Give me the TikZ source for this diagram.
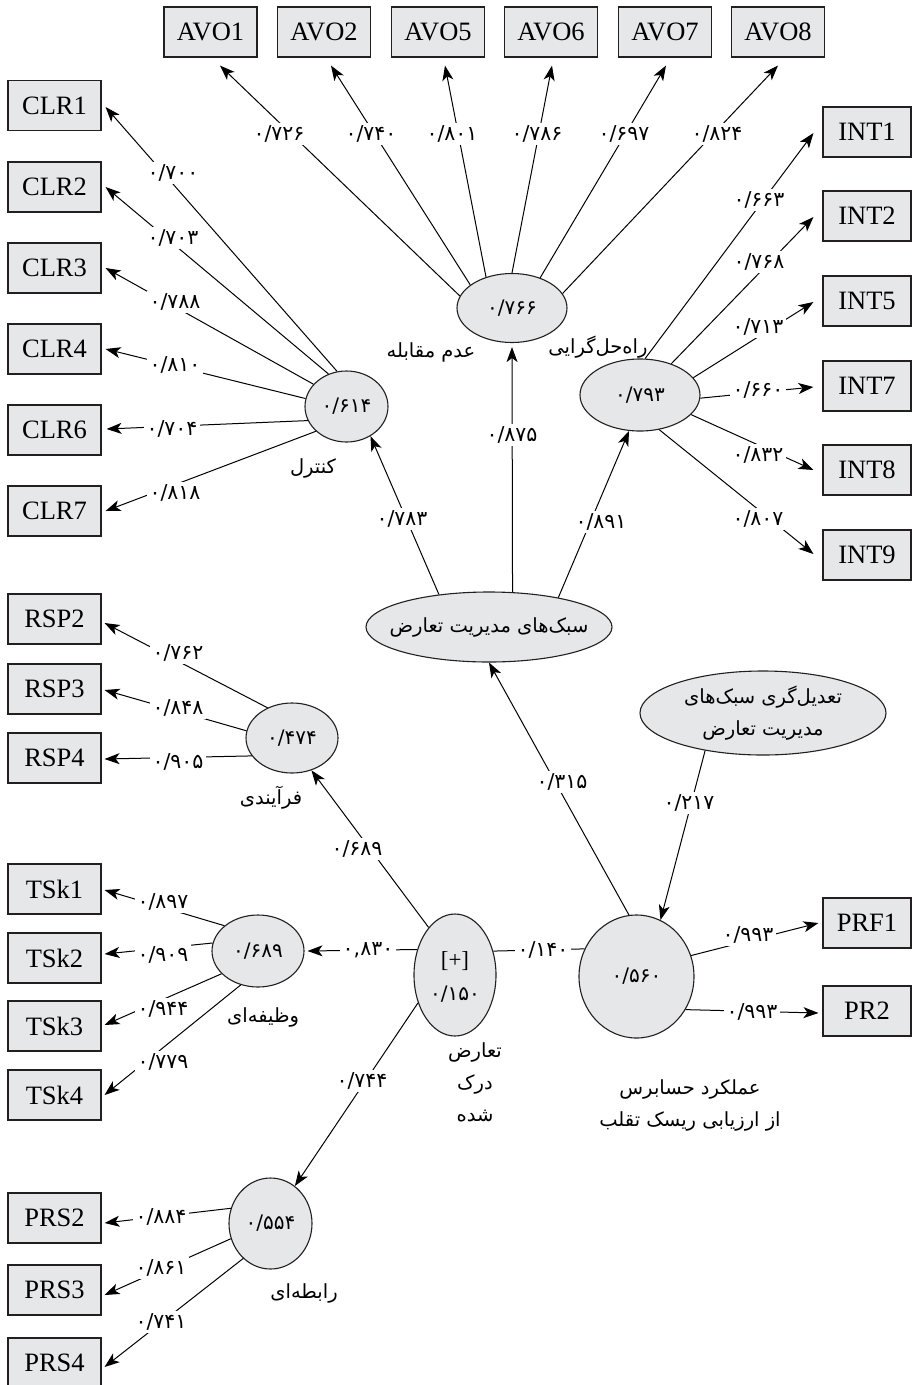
\documentclass[tikz,border=0pt]{standalone}
\usepackage{fontspec}
\setmainfont{Liberation Serif}
\newfontfamily\fa[Script=Arabic]{DejaVu Sans}
\TeXXeTstate=1
\usetikzlibrary{shapes.geometric,arrows.meta}
\definecolor{boxgray}{RGB}{230,231,232}
\definecolor{edge}{RGB}{35,31,32}
\begin{document}
\begin{tikzpicture}[x=1pt,y=-1pt,
  box/.style={draw=edge, fill=boxgray, line width=1.1pt, minimum width=93pt, minimum height=50pt, inner sep=0pt, font=\fontsize{26.5}{28}\selectfont},
  rbox/.style={box, minimum width=88pt},
  ell/.style={ellipse, draw=edge, fill=boxgray, line width=1.1pt, inner sep=0pt},
  val/.style={font=\fa\fontsize{20}{22}\selectfont, inner sep=0pt},
  lbl/.style={fill=white, inner sep=2.5pt, font=\fa\fontsize{20.5}{22}\selectfont},
  fat/.style={font=\fa\fontsize{19.5}{32}\selectfont, align=center, inner sep=0pt},
  con/.style={line width=1pt, draw=black},
  arr/.style={con, -{Stealth[length=15pt,width=11pt,inset=4pt]}}
]
\useasboundingbox (0,0) rectangle (912,1385);

% ---------- boxes ----------
\node[box] (avo1) at (210.5,32) {AVO1};
\node[box] (avo2) at (324,32) {AVO2};
\node[box] (avo5) at (438,32) {AVO5};
\node[box] (avo6) at (551,32) {AVO6};
\node[box] (avo7) at (665,32) {AVO7};
\node[box] (avo8) at (778,32) {AVO8};

\node[box] (clr1) at (54.5,105.5) {CLR1};
\node[box] (clr2) at (54.5,187) {CLR2};
\node[box] (clr3) at (54.5,268) {CLR3};
\node[box] (clr4) at (54.5,349) {CLR4};
\node[box] (clr6) at (54.5,430) {CLR6};
\node[box] (clr7) at (54.5,511) {CLR7};

\node[rbox] (int1) at (867,132) {INT1};
\node[rbox] (int2) at (867,216) {INT2};
\node[rbox] (int5) at (867,301) {INT5};
\node[rbox] (int7) at (867,386) {INT7};
\node[rbox] (int8) at (867,470) {INT8};
\node[rbox] (int9) at (867,555) {INT9};

\node[box] (rsp2) at (54.5,619) {RSP2};
\node[box] (rsp3) at (54.5,689) {RSP3};
\node[box] (rsp4) at (54.5,758) {RSP4};

\node[box] (tsk1) at (54.5,889) {TSk1};
\node[box] (tsk2) at (54.5,958) {TSk2};
\node[box] (tsk3) at (54.5,1026) {TSk3};
\node[box] (tsk4) at (54.5,1095) {TSk4};

\node[rbox] (prf1) at (867,923) {PRF1};
\node[rbox] (pr2) at (867,1011) {PR2};

\node[box] (prs2) at (54.5,1218) {PRS2};
\node[box] (prs3) at (54.5,1290) {PRS3};
\node[box] (prs4) at (54.5,1363) {PRS4};

% ---------- ellipses ----------
\node[ell, minimum width=110pt, minimum height=69pt] (avo) at (512,308) {};
\node[ell, minimum width=83pt, minimum height=71pt] (clr) at (346.5,406.5) {};
\node[ell, minimum width=120pt, minimum height=72pt] (int) at (640,395) {};
\node[ell, minimum width=246pt, minimum height=70pt] (sbk) at (489,627) {};
\node[ell, minimum width=246pt, minimum height=84pt] (mod) at (763,713) {};
\node[ell, minimum width=92pt, minimum height=70pt] (rsp) at (292,738) {};
\node[ell, minimum width=92pt, minimum height=72pt] (tsk) at (258,951) {};
\node[ell, minimum width=82pt, minimum height=122pt] (plus) at (455,975) {};
\node[ell, minimum width=115pt, minimum height=123pt] (big) at (636.5,976.5) {};
\node[ell, minimum width=83pt, minimum height=91pt] (prs) at (270.5,1223.5) {};

% ---------- values in ellipses ----------
\node[val] (avov) at (avo) {۰/۷۶۶};
\node[val] (clrv) at (clr) {۰/۶۱۴};
\node[val] (intv) at (int) {۰/۷۹۳};
\node[val] (rspv) at (rsp) {۰/۴۷۴};
\node[val] (tskv) at (tsk) {۰/۶۸۹};
\node[font=\fontsize{23}{24}\selectfont, inner sep=0pt] (plusa) at (455,961) {[+]};
\node[val] (plusv) at (455,994) {۰/۱۵۰};
\node[val] (bigv) at (big) {۰/۵۶۰};
\node[val] (prsv) at (prs) {۰/۵۵۴};

% ---------- Persian names ----------
\node[fat] (tsbk) at (sbk) {\beginR سبک‌های مدیریت تعارض\endR};
\node[fat] (tmod) at (mod) {\beginR تعدیل‌گری سبک‌های\endR\\\beginR مدیریت تعارض\endR};
\node[fat] (tavo) at (431,352) {\beginR عدم مقابله\endR};
\node[fat] (tint) at (598,347) {\beginR راه‌حل‌گرایی\endR};
\node[fat] (tclr) at (313,468) {\beginR کنترل\endR};
\node[fat] (trsp) at (271,798) {\beginR فرآیندی\endR};
\node[fat] (ttsk) at (263,1017) {\beginR وظیفه‌ای\endR};
\node[fat] (tplus) at (475,1082) {\beginR تعارض\endR\\\beginR درک\endR\\\beginR شده\endR};
\node[fat] (tbig) at (690,1105) {\beginR عملکرد حسابرس\endR\\\beginR از ارزیابی ریسک تقلب\endR};
\node[fat] (tprs) at (304,1293) {\beginR رابطه‌ای\endR};

% ---------- connectors ----------
\draw[arr] (avo.167.2) -- ([xshift=9.5pt,yshift=-8pt]avo1.south);
\draw[arr] (avo.151.3) -- ([xshift=7pt,yshift=-8pt]avo2.south);
\draw[arr] (avo.130) -- ([xshift=7pt,yshift=-8pt]avo5.south);
\draw[arr] (avo.90) -- ([xshift=1pt,yshift=-8pt]avo6.south);
\draw[arr] (avo.47.9) -- ([xshift=1pt,yshift=-8pt]avo7.south);
\draw[arr] (avo.16.7) -- ([yshift=-8pt]avo8.south);

\draw[arr] (clr.105) -- ([xshift=4pt,yshift=-1.5pt]clr1.east);
\draw[arr] (clr.119.6) -- ([xshift=4pt]clr2.east);
\draw[arr] (clr.146.9) -- ([xshift=4pt]clr3.east);
\draw[arr] (clr.169.8) -- ([xshift=4pt]clr4.east);
\draw[arr] (clr.200.2) -- ([xshift=5pt,yshift=1pt]clr6.east);
\draw[arr] (clr.219.9) -- ([xshift=4pt]clr7.east);

\draw[arr] (int.82) -- ([xshift=-9pt,yshift=-1pt]int1.west);
\draw[arr] (int.45) -- ([xshift=-9pt,yshift=-1pt]int2.west);
\draw[arr] (int.18.8) -- ([xshift=-9pt,yshift=-1pt]int5.west);
\draw[arr] (int.-3.8) -- ([xshift=-9pt,yshift=-1pt]int7.west);
\draw[arr] (int.-21.4) -- ([xshift=-9pt]int8.west);
\draw[arr] (int.-61.5) -- ([xshift=-9pt,yshift=1pt]int9.west);

\draw[arr] (sbk.147.8) -- (clr.-51);
\draw[arr] (sbk.56.7) -- ([yshift=-4pt]avo.south);
\draw[arr] (sbk.23.7) -- (int.-107);
\draw[arr] (big.97) -- (sbk.south);
\draw[arr] (mod.213) -- (big.67.6);

\draw[arr] (rsp.129.8) -- ([xshift=3pt,yshift=-4pt]rsp2.east);
\draw[arr] (rsp.171) -- ([xshift=3pt,yshift=-1pt]rsp3.east);
\draw[arr] (rsp.204) -- ([xshift=3pt,yshift=-1pt]rsp4.east);

\draw[arr] (plus.119.4) -- (rsp.-59.5);
\draw[arr] (plus.146.7) -- ([xshift=3pt]tsk.east);
\draw[arr] (plus.217) -- (prs.57.7);
\draw[con] (plus.32) -- (big.152.9);

\draw[arr] (tsk.143.7) -- ([xshift=3pt,yshift=-1pt]tsk1.east);
\draw[arr] (tsk.170) -- ([xshift=3pt,yshift=4pt]tsk2.east);
\draw[arr] (tsk.212) -- ([xshift=3pt,yshift=1pt]tsk3.east);
\draw[arr] (tsk.243.4) -- ([xshift=3pt]tsk4.east);

\draw[arr] (big.21.5) -- ([xshift=-4pt]prf1.west);
\draw[arr] (big.-34.9) -- ([xshift=-4pt,yshift=-2pt]pr2.west);

\draw[arr] (prs.159.8) -- ([xshift=3pt,yshift=-5pt]prs2.east);
\draw[arr] (prs.201.4) -- ([xshift=3pt,yshift=-5pt]prs3.east);
\draw[arr] (prs.232.2) -- ([xshift=3pt,yshift=-4pt]prs4.east);

% ---------- connector labels ----------
\node[lbl] (lavo1) at (279,134) {۰/۷۲۶};
\node[lbl] (lavo2) at (371,134) {۰/۷۴۰};
\node[lbl] (lavo5) at (452,134) {۰/۸۰۱};
\node[lbl] (lavo6) at (537,134) {۰/۷۸۶};
\node[lbl] (lavo7) at (624,134) {۰/۶۹۷};
\node[lbl] (lavo8) at (717,134) {۰/۸۲۴};

\node[lbl] (lclr1) at (173,173) {۰/۷۰۰};
\node[lbl] (lclr2) at (173,238) {۰/۷۰۳};
\node[lbl] (lclr3) at (175,302) {۰/۷۸۸};
\node[lbl] (lclr4) at (175,365) {۰/۸۱۰};
\node[lbl] (lclr6) at (172,429) {۰/۷۰۴};
\node[lbl] (lclr7) at (175,493) {۰/۸۱۸};

\node[lbl] (lint1) at (759,200) {۰/۶۶۳};
\node[lbl] (lint2) at (759,262) {۰/۷۶۸};
\node[lbl] (lint5) at (758,327) {۰/۷۱۳};
\node[lbl] (lint7) at (758,390) {۰/۶۶۰};
\node[lbl] (lint8) at (758,455) {۰/۸۳۲};
\node[lbl] (lint9) at (758,519) {۰/۸۰۷};

\node[lbl] (lsc) at (402,519) {۰/۷۸۳};
\node[lbl] (lsa) at (512,435) {۰/۸۷۵};
\node[lbl] (lsi) at (601,522) {۰/۸۹۱};
\node[lbl] (lbs) at (562,782) {۰/۳۱۵};
\node[lbl] (lmb) at (689,803) {۰/۲۱۷};

\node[lbl] (lrsp2) at (178,653) {۰/۷۶۲};
\node[lbl] (lrsp3) at (178,708) {۰/۸۴۸};
\node[lbl] (lrsp4) at (178,762) {۰/۹۰۵};

\node[lbl] (lpr) at (357,849) {۰/۶۸۹};
\node[lbl] (lpt) at (368,950) {۰,۸۳۰};
\node[lbl] (lpp) at (362,1081) {۰/۷۴۴};
\node[lbl] (lpb) at (543,950) {۰/۱۴۰};

\node[lbl] (ltsk1) at (163,902) {۰/۸۹۷};
\node[lbl] (ltsk2) at (163,955) {۰/۹۰۹};
\node[lbl] (ltsk3) at (163,1009) {۰/۹۴۴};
\node[lbl] (ltsk4) at (163,1062) {۰/۷۷۹};

\node[lbl] (lprf1) at (748,935) {۰/۹۹۳};
\node[lbl] (lpr2) at (752,1012) {۰/۹۹۳};

\node[lbl] (lprs2) at (161,1217) {۰/۸۸۴};
\node[lbl] (lprs3) at (161,1268) {۰/۸۶۱};
\node[lbl] (lprs4) at (161,1322) {۰/۷۴۱};
\end{tikzpicture}
\end{document}
